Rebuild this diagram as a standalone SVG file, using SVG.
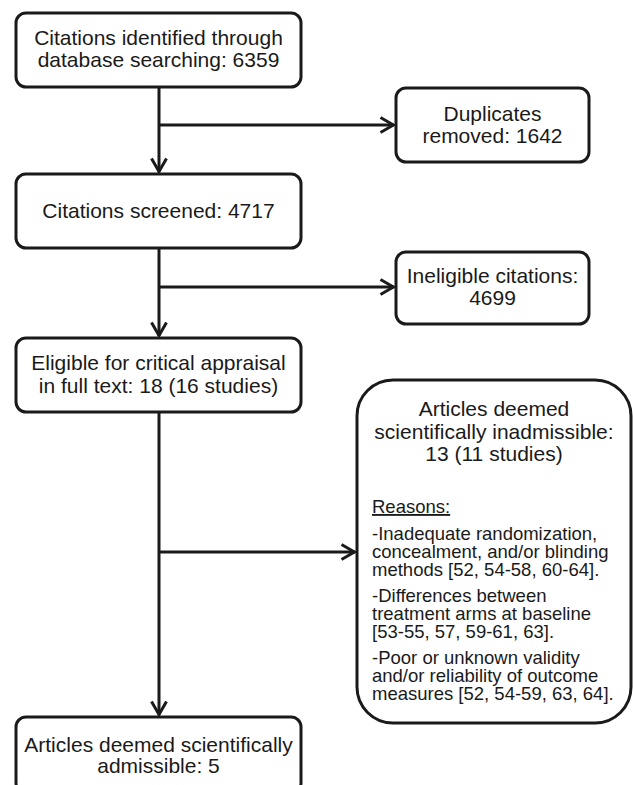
<svg xmlns="http://www.w3.org/2000/svg" width="633" height="785" viewBox="0 0 633 785">
<style>
.box{fill:#fff;stroke:#1a1a1a;stroke-width:3}
.t{font-family:"Liberation Sans",Arial,sans-serif;font-size:21px;fill:#1a1a1a;text-anchor:middle}
.s{font-family:"Liberation Sans",Arial,sans-serif;font-size:18.5px;fill:#1a1a1a}
.ln{fill:none;stroke:#1a1a1a;stroke-width:3}
</style>
<defs>
<marker id="arr" viewBox="0 0 16 18" refX="15" refY="9" markerWidth="16" markerHeight="18" markerUnits="userSpaceOnUse" orient="auto">
<path d="M1.5,1.5 L14.5,9 L1.5,16.5" fill="none" stroke="#1a1a1a" stroke-width="3"/>
</marker>
</defs>
<rect width="633" height="785" fill="#fff"/>
<g id="connectors">
<path class="ln" d="M159,87 V172" marker-end="url(#arr)"/>
<path class="ln" d="M159,125 H394" marker-end="url(#arr)"/>
<path class="ln" d="M159,248 V336" marker-end="url(#arr)"/>
<path class="ln" d="M159,287 H394" marker-end="url(#arr)"/>
<path class="ln" d="M159,412 V715" marker-end="url(#arr)"/>
<path class="ln" d="M159,552 H355" marker-end="url(#arr)"/>
</g>
<g id="n1">
<rect class="box" x="16" y="13" width="285" height="74" rx="10"/>
<text class="t" x="158.5" y="45">Citations identified through</text>
<text class="t" x="158.5" y="67">database searching: 6359</text>
</g>
<g id="n2">
<rect class="box" x="396" y="88" width="193" height="74" rx="10"/>
<text class="t" x="492.5" y="121">Duplicates</text>
<text class="t" x="492.5" y="143">removed: 1642</text>
</g>
<g id="n3">
<rect class="box" x="16" y="174" width="285" height="74" rx="10"/>
<text class="t" x="158.5" y="218">Citations screened: 4717</text>
</g>
<g id="n4">
<rect class="box" x="396" y="252" width="193" height="72" rx="10"/>
<text class="t" x="492.5" y="283">Ineligible citations:</text>
<text class="t" x="492.5" y="305">4699</text>
</g>
<g id="n5">
<rect class="box" x="16" y="338" width="285" height="74" rx="10"/>
<text class="t" x="158.5" y="370">Eligible for critical appraisal</text>
<text class="t" x="158.5" y="393">in full text: 18 (16 studies)</text>
</g>
<g id="n6">
<rect class="box" x="357" y="380" width="274" height="343" rx="36"/>
<text class="t" x="494" y="416">Articles deemed</text>
<text class="t" x="494" y="439">scientifically inadmissible:</text>
<text class="t" x="494" y="461">13 (11 studies)</text>
<text class="s" x="372" y="513" text-decoration="underline">Reasons:</text>
<text class="s" x="372" y="540">-Inadequate randomization,</text>
<text class="s" x="372" y="558">concealment, and/or blinding</text>
<text class="s" x="372" y="576">methods [52, 54-58, 60-64].</text>
<text class="s" x="372" y="602">-Differences between</text>
<text class="s" x="372" y="620">treatment arms at baseline</text>
<text class="s" x="372" y="638">[53-55, 57, 59-61, 63].</text>
<text class="s" x="372" y="664">-Poor or unknown validity</text>
<text class="s" x="372" y="682">and/or reliability of outcome</text>
<text class="s" x="372" y="700">measures [52, 54-59, 63, 64].</text>
</g>
<g id="n7">
<rect class="box" x="16" y="717" width="285" height="76" rx="10"/>
<text class="t" x="158.5" y="752">Articles deemed scientifically</text>
<text class="t" x="158.5" y="773">admissible: 5</text>
</g>
</svg>
